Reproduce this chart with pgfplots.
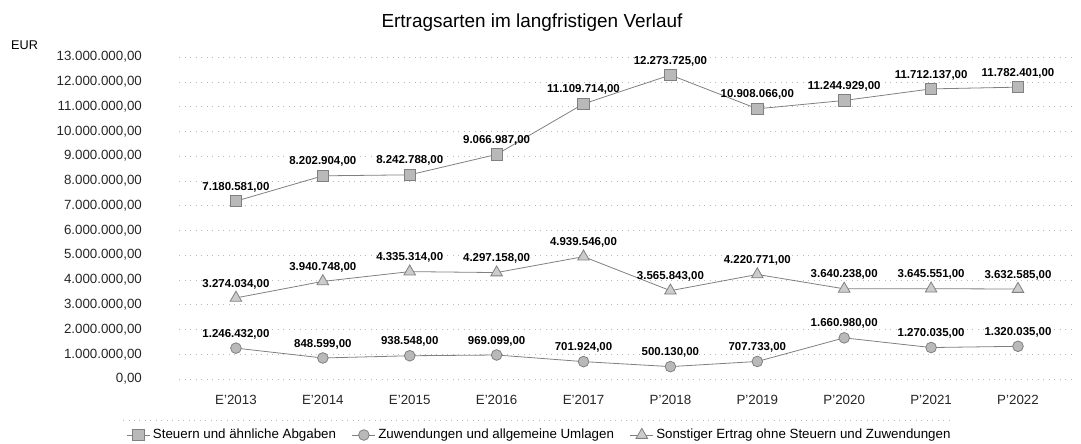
\documentclass[border=0pt]{standalone}
\usepackage{pgfplots}
\pgfplotsset{compat=1.18}
\usepackage{fontspec}
\setmainfont{Liberation Sans}
\begin{document}
\begin{tikzpicture}[x=1pt,y=1pt]
\useasboundingbox (0,0) rectangle (810.75,332.25);
\node[font=\fontsize{14.2}{17}\selectfont] at (399,315) {Ertragsarten im langfristigen Verlauf};
\node[font=\fontsize{9.5}{11}\selectfont] at (18.4,298.5) {EUR};
\begin{axis}[
  at={(134.6pt,48pt)}, anchor=south west, scale only axis,
  width=671.25pt, height=241.5pt,
  xmin=-0.65, xmax=9.65, ymin=0, ymax=13000000,
  xtick={0,1,2,3,4,5,6,7,8,9},
  xticklabels={E'2013,E'2014,E'2015,E'2016,E'2017,P'2018,P'2019,P'2020,P'2021,P'2022},
  ytick={0,1000000,2000000,3000000,4000000,5000000,6000000,7000000,8000000,9000000,10000000,11000000,12000000,13000000},
  yticklabels={{0,00},{1.000.000,00},{2.000.000,00},{3.000.000,00},{4.000.000,00},{5.000.000,00},{6.000.000,00},{7.000.000,00},{8.000.000,00},{9.000.000,00},{10.000.000,00},{11.000.000,00},{12.000.000,00},{13.000.000,00}},
  scaled y ticks=false,
  axis line style={draw=none},
  major tick length=0pt,
  ymajorgrids,
  grid style={gray!55, dash pattern=on 0.6pt off 3.5pt},
  yticklabel style={anchor=east, inner sep=0pt, xshift=-28pt, font=\fontsize{10}{12}\selectfont, text=black!85},
  xticklabel style={anchor=center, inner sep=0pt, yshift=-15.75pt, font=\fontsize{10}{12}\selectfont, text=black!85},
  legend columns=3,
  legend style={at={(0.4028,-0.174)}, anchor=center, draw=none, fill=none,
    font=\fontsize{10}{12}\selectfont,
    /tikz/every even column/.append style={column sep=10pt}},
  every node near coord/.append style={anchor=center, yshift=10.5pt, inner sep=0pt,
    font=\bfseries\fontsize{8.6}{10}\selectfont, text=black},
  point meta=explicit symbolic,
  clip=false,
]
\addplot[color=gray, line width=0.6pt, mark=square*, mark size=4.3pt,
  mark options={fill=gray!55, draw=gray}, nodes near coords]
coordinates {
(0,7180581) [7.180.581,00]
(1,8202904) [8.202.904,00]
(2,8242788) [8.242.788,00]
(3,9066987) [9.066.987,00]
(4,11109714) [11.109.714,00]
(5,12273725) [12.273.725,00]
(6,10908066) [10.908.066,00]
(7,11244929) [11.244.929,00]
(8,11712137) [11.712.137,00]
(9,11782401) [11.782.401,00]
};
\addlegendentry{Steuern und ähnliche Abgaben}
\addplot[color=gray, line width=0.6pt, mark=*, mark size=4pt,
  mark options={fill=gray!55, draw=gray}, nodes near coords]
coordinates {
(0,1246432) [1.246.432,00]
(1,848599) [848.599,00]
(2,938548) [938.548,00]
(3,969099) [969.099,00]
(4,701924) [701.924,00]
(5,500130) [500.130,00]
(6,707733) [707.733,00]
(7,1660980) [1.660.980,00]
(8,1270035) [1.270.035,00]
(9,1320035) [1.320.035,00]
};
\addlegendentry{Zuwendungen und allgemeine Umlagen}
\addplot[color=gray, line width=0.6pt, mark=triangle*, mark size=5pt,
  mark options={fill=gray!40, draw=gray}, nodes near coords]
coordinates {
(0,3274034) [3.274.034,00]
(1,3940748) [3.940.748,00]
(2,4335314) [4.335.314,00]
(3,4297158) [4.297.158,00]
(4,4939546) [4.939.546,00]
(5,3565843) [3.565.843,00]
(6,4220771) [4.220.771,00]
(7,3640238) [3.640.238,00]
(8,3645551) [3.645.551,00]
(9,3632585) [3.632.585,00]
};
\addlegendentry{Sonstiger Ertrag ohne Steuern und Zuwendungen}
\draw[gray!55, dash pattern=on 0.6pt off 3.5pt] (rel axis cs:-0.063,-0.127) -- (rel axis cs:0.864,-0.127);
\end{axis}
\end{tikzpicture}
\end{document}
